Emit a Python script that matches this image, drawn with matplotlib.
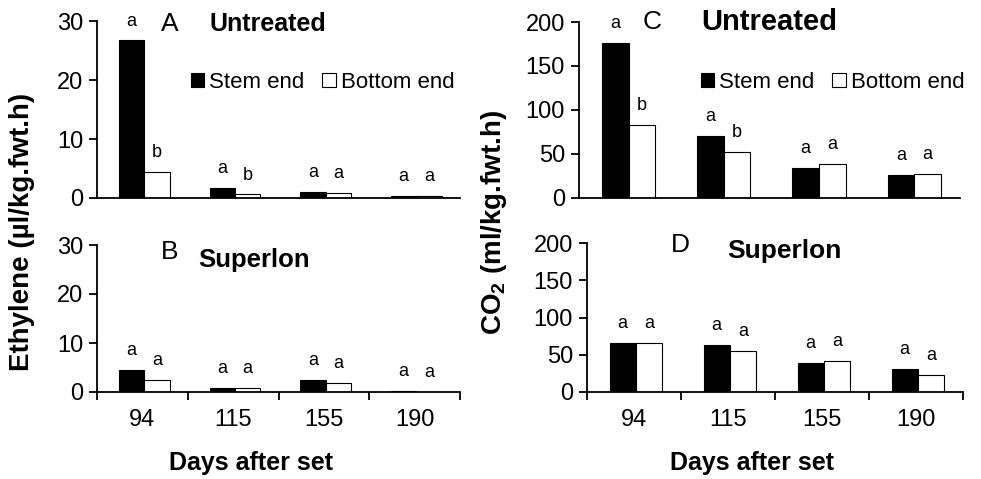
import matplotlib.pyplot as plt
import numpy as np

plt.rcParams['font.family'] = ['Liberation Sans', 'DejaVu Sans']
plt.rcParams['mathtext.fontset'] = 'custom'
plt.rcParams['mathtext.rm'] = 'Liberation Sans'
plt.rcParams['mathtext.bf'] = 'Liberation Sans:bold'

days = ['94', '115', '155', '190']
series = ['Stem end', 'Bottom end']

# Ethylene (µl/kg.fwt.h)
eth_untreated_stem = [26.7, 1.75, 0.95, 0.4]
eth_untreated_bottom = [4.35, 0.6, 0.8, 0.3]
eth_untreated_letters = [('a', 'b'), ('a', 'b'), ('a', 'a'), ('a', 'a')]
eth_superlon_stem = [4.5, 0.9, 2.4, 0.3]
eth_superlon_bottom = [2.4, 0.8, 1.8, 0.05]
eth_superlon_letters = [('a', 'a'), ('a', 'a'), ('a', 'a'), ('a', 'a')]

# CO2 (ml/kg.fwt.h)
co2_untreated_stem = [176, 70, 34, 26]
co2_untreated_bottom = [83, 52, 39, 27]
co2_untreated_letters = [('a', 'b'), ('a', 'b'), ('a', 'a'), ('a', 'a')]
co2_superlon_stem = [66, 63, 39.5, 31]
co2_superlon_bottom = [66, 55, 42, 22.5]
co2_superlon_letters = [('a', 'a'), ('a', 'a'), ('a', 'a'), ('a', 'a')]

W, H = 981, 479
fig = plt.figure(figsize=(W / 100, H / 100), dpi=100)


def box(x0, x1, ytop, ybot):
    return [x0 / W, 1 - ybot / H, (x1 - x0) / W, (ybot - ytop) / H]


def px(x, y):
    return x / W, 1 - y / H


def panel(rect, stem, bottom, letters, ymax, step, bottom_row):
    ax = fig.add_axes(rect)
    x = np.arange(len(days)) + 0.5
    w = 0.28
    b1 = ax.bar(x - w / 2 + 0.02, stem, w, color='black', edgecolor='black',
                linewidth=0.8, label=series[0])
    b2 = ax.bar(x + w / 2 + 0.02, bottom, w, color='white', edgecolor='black',
                linewidth=0.8, label=series[1])
    for bars, idx in ((b1, 0), (b2, 1)):
        for rect_, lt in zip(bars, letters):
            ax.annotate(lt[idx], (rect_.get_x() + rect_.get_width() / 2, rect_.get_height()),
                        xytext=(0, 14), textcoords='offset points',
                        ha='center', va='center', fontsize=13)
    ax.set_xlim(0, len(days))
    ax.set_ylim(0, ymax)
    ax.set_yticks(np.arange(0, ymax + 1, step))
    ax.spines['top'].set_visible(False)
    ax.spines['right'].set_visible(False)
    for s in ('left', 'bottom'):
        ax.spines[s].set_linewidth(1.3)
    ax.tick_params(axis='y', direction='out', length=6, width=1.3, labelsize=17, pad=4)
    if bottom_row:
        ax.set_xticks(np.arange(len(days) + 1))
        ax.set_xticklabels([])
        ax.set_xticks(x, minor=True)
        ax.set_xticklabels(days, minor=True)
        ax.tick_params(axis='x', which='major', direction='out', length=6, width=1.3)
        ax.tick_params(axis='x', which='minor', length=0, labelsize=17, pad=12)
    else:
        ax.set_xticks([])
    return ax


axA = panel(box(97, 460, 21, 198), eth_untreated_stem, eth_untreated_bottom,
            eth_untreated_letters, 30, 10, False)
axB = panel(box(97, 460, 245, 392), eth_superlon_stem, eth_superlon_bottom,
            eth_superlon_letters, 30, 10, True)
axC = panel(box(579, 960, 22, 198), co2_untreated_stem, co2_untreated_bottom,
            co2_untreated_letters, 200, 50, False)
axD = panel(box(587, 963, 243, 392), co2_superlon_stem, co2_superlon_bottom,
            co2_superlon_letters, 200, 50, True)

for ax, anchor in ((axA, px(455, 82)), (axC, px(965, 82))):
    ax.legend(loc='center right', bbox_to_anchor=anchor, bbox_transform=fig.transFigure,
              ncol=2, frameon=False, fontsize=16, handlelength=0.6, handleheight=0.6,
              handletextpad=0.25, columnspacing=0.8, borderaxespad=0, borderpad=0)

fig.text(*px(170, 24), 'A', fontsize=19, ha='center', va='center')
fig.text(*px(268, 24), 'Untreated', fontsize=18, fontweight='bold', ha='center', va='center')
fig.text(*px(170, 252), 'B', fontsize=19, ha='center', va='center')
fig.text(*px(254, 260), 'Superlon', fontsize=18.5, fontweight='bold', ha='center', va='center')
fig.text(*px(652, 22), 'C', fontsize=19, ha='center', va='center')
fig.text(*px(769, 22), 'Untreated', fontsize=21, fontweight='bold', ha='center', va='center')
fig.text(*px(680, 245), 'D', fontsize=19, ha='center', va='center')
fig.text(*px(784, 251), 'Superlon', fontsize=19, fontweight='bold', ha='center', va='center')

fig.text(*px(251, 463), 'Days after set', fontsize=18, fontweight='bold',
         ha='center', va='center')
fig.text(*px(752, 463), 'Days after set', fontsize=18, fontweight='bold',
         ha='center', va='center')

fig.text(*px(22, 232), 'Ethylene (µl/kg.fwt.h)', rotation=90, fontsize=20,
         fontweight='bold', ha='center', va='center')
fig.text(*px(494, 222), r'CO$_\mathbf{2}$ (ml/kg.fwt.h)', rotation=90, fontsize=20,
         fontweight='bold', ha='center', va='center')

fig.savefig('out.png', dpi=100)
